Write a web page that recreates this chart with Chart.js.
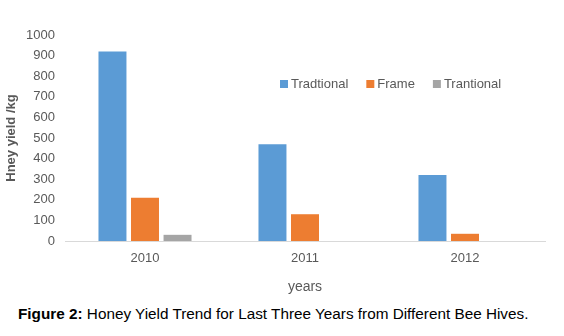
<!DOCTYPE html>
<html>
<head>
<meta charset="utf-8">
<script src="https://cdn.jsdelivr.net/npm/chart.js@4.4.1/dist/chart.umd.min.js"></script>
<style>
  body { margin: 0; background: #fff; }
  #wrap { position: relative; width: 564px; height: 300px; }
  #caption {
    position: absolute; left: 18px; top: 305px;
    font-family: "Liberation Sans", Arial, sans-serif; font-size: 15.3px; color: #000;
    white-space: nowrap;
  }
</style>
</head>
<body>
<div id="wrap"><canvas id="honeyChart" width="564" height="300"></canvas></div>
<div id="caption"><b>Figure 2:</b> Honey Yield Trend for Last Three Years from Different Bee Hives.</div>
<script>
// Valores (kg)
const years = ['2010', '2011', '2012'];
const tradtional = [920, 470, 320];
const frame = [210, 130, 35];
const trantional = [30, 0, 0];
const seriesNames = ['Tradtional', 'Frame', 'Trantional'];

const gray = '#595959';
const fontFam = '"Liberation Sans", Arial, sans-serif';

// legenda desenhada dentro da área do gráfico
const insideLegend = {
  id: 'insideLegend',
  afterDraw(chart) {
    const c = chart.ctx;
    let x = 280;
    const y = 84;
    c.save();
    c.font = '13px ' + fontFam;
    c.textBaseline = 'middle';
    chart.data.datasets.forEach(ds => {
      c.fillStyle = ds.backgroundColor;
      c.fillRect(x, y - 4, 8, 8);
      c.fillStyle = gray;
      c.fillText(ds.label, x + 11, y);
      x += 11 + c.measureText(ds.label).width + 18;
    });
    c.restore();
  }
};

new Chart(document.getElementById('honeyChart'), {
  type: 'bar',
  data: {
    labels: years,
    datasets: [
      { label: seriesNames[0], data: tradtional, backgroundColor: '#5b9bd5' },
      { label: seriesNames[1], data: frame, backgroundColor: '#ed7d31' },
      { label: seriesNames[2], data: trantional, backgroundColor: '#a5a5a5' }
    ]
  },
  options: {
    responsive: false,
    animation: false,
    layout: { padding: { top: 35, right: 19, left: 4, bottom: 0 } },
    datasets: { bar: { categoryPercentage: 0.61, barPercentage: 0.86 } },
    plugins: { legend: { display: false }, tooltip: { enabled: false } },
    scales: {
      y: {
        min: 0, max: 1000,
        ticks: { stepSize: 100, color: gray, font: { family: fontFam, size: 13 }, padding: 10,
                 callback: v => String(v) },
        grid: { display: false, drawTicks: false },
        border: { display: false },
        title: { display: true, text: 'Hney yield /kg', color: gray, font: { family: fontFam, size: 13, weight: 'bold' }, padding: 0 },
        afterFit(s) { s.width = 61; }
      },
      x: {
        ticks: { color: gray, font: { family: fontFam, size: 13 }, padding: 10 },
        grid: { display: false, drawTicks: false },
        border: { display: true, color: '#d9d9d9', width: 1 },
        title: { display: true, text: 'years', color: gray, font: { family: fontFam, size: 14 }, padding: { top: 8 } },
        afterFit(s) { s.height = 59; }
      }
    }
  },
  plugins: [insideLegend]
});
</script>
</body>
</html>
